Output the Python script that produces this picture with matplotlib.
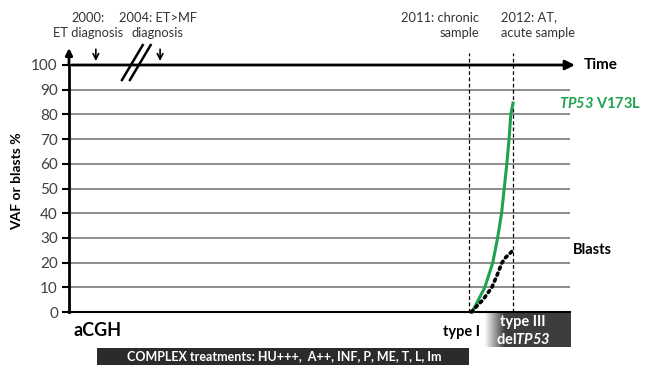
import numpy as np
import matplotlib
matplotlib.use("Agg")
import matplotlib.pyplot as plt
from matplotlib.patches import Rectangle

plt.rcParams['font.family'] = ['Lato', 'DejaVu Sans']
plt.rcParams['mathtext.fontset'] = 'custom'
plt.rcParams['mathtext.rm'] = 'Lato'
plt.rcParams['mathtext.bf'] = 'Lato:bold'
plt.rcParams['mathtext.it'] = 'Lato:italic'
plt.rcParams['mathtext.bfit'] = 'Lato:italic:bold'

# time axis: 0 = 2011 chronic sample, 1 = 2012 acute sample
# green curve: TP53 V173L VAF (%)
tp53_t = [0.07, 0.36, 0.54, 0.65, 0.74, 0.80, 0.86, 0.91, 0.95, 1.0]
tp53_vaf = [0, 10, 20, 30, 40, 50, 60, 70, 80, 84.6]
# dotted curve: blasts (%)
blasts_t = [0.05, 0.32, 0.52, 0.64, 0.75, 0.83, 1.0]
blasts_pct = [0, 5, 10, 15, 20, 22, 25]

yticks = list(range(0, 101, 10))
event_labels = ["2000:\nET diagnosis", "2004: ET>MF\ndiagnosis"]
event_pos = [-8.48, -7.02]
sample_labels = ["2011: chronic\nsample", "2012: AT,\nacute sample"]
sample_pos = [0.0, 1.0]
treatment_text = "COMPLEX treatments: HU+++,  A++, INF, P, ME, T, L, Im"

xmin, xmax = -9.09, 2.295
green = '#1fa24f'
txt_gray = '#333333'

fig = plt.figure(figsize=(6.5, 3.65), dpi=100)
ax = fig.add_axes([69 / 650, 53 / 365, 501 / 650, 247 / 365])
ax.set_xlim(xmin, xmax)
ax.set_ylim(0, 100)

# grid
ax.hlines(yticks[1:-1], xmin, xmax, color='#8c8c8c', lw=1.4, zorder=1)

# axes styling
for s in ['top', 'right']:
    ax.spines[s].set_visible(False)
ax.spines['left'].set_linewidth(2)
ax.spines['bottom'].set_linewidth(1.5)
ax.set_xticks([])
ax.set_yticks(yticks)
ax.tick_params(axis='y', direction='out', length=5, width=1.5,
               labelsize=11, labelcolor='#404040', pad=3)
ax.set_ylabel('VAF or blasts %', fontsize=10, fontweight='bold')
ax.yaxis.set_label_coords(-0.092, 0.53)

# y axis arrow
ax.annotate('', xy=(xmin, 108), xytext=(xmin, 99),
            arrowprops=dict(arrowstyle='-|>', color='black', lw=2, mutation_scale=10),
            annotation_clip=False)
# time arrow at 100
ax.annotate('', xy=(2.47, 100), xytext=(xmin, 100),
            arrowprops=dict(arrowstyle='-|>', color='black', lw=2, mutation_scale=14),
            annotation_clip=False)
ax.text(2.6, 100, 'Time', fontsize=11, fontweight='bold', va='center', ha='left')

# break marks on the time axis
for off in [0.0, 0.18]:
    ax.plot([-7.9 + off, -7.4 + off], [93.5, 108.5], color='black', lw=1.8,
            clip_on=False, solid_capstyle='butt')

# event arrows and labels
for label, pos, shift in zip(event_labels, event_pos, [-0.18, -0.05]):
    ax.annotate('', xy=(pos, 100.5), xytext=(pos, 107.5),
                arrowprops=dict(arrowstyle='->', color='black', lw=1.2, mutation_scale=10),
                annotation_clip=False)
    ax.text(pos + shift, 110.5, label, fontsize=9.3, color=txt_gray, ha='center',
            va='bottom', linespacing=1.35)

# sample time points
ax.vlines(sample_pos, 0, 105, color='black', lw=0.9, linestyles=(0, (3, 2)), clip_on=False)
ax.text(sample_pos[0] + 0.23, 110.5, sample_labels[0], fontsize=9.3, color=txt_gray,
        ha='right', va='bottom', linespacing=1.35, multialignment='right')
ax.text(sample_pos[1] - 0.27, 110.5, sample_labels[1], fontsize=9.3, color=txt_gray,
        ha='left', va='bottom', linespacing=1.35)

# curves
ax.plot(tp53_t, tp53_vaf, color=green, lw=2.2, zorder=3, clip_on=False)
ax.plot(blasts_t, blasts_pct, color='black', lw=2.6, ls=(0, (0.6, 1.2)),
        dash_capstyle='round', zorder=3, clip_on=False)
ax.text(2.04, tp53_vaf[-1], r'$\mathbfit{TP53}$ V173L', fontsize=10.5, fontweight='bold',
        color=green, va='center', ha='left')
ax.text(2.36, blasts_pct[-1], 'Blasts', fontsize=10.5, fontweight='bold',
        va='center', ha='left')

# bottom annotations
ax.text(xmin + 0.1, -7.5, 'aCGH', fontsize=13, fontweight='bold', va='center', ha='left')
ax.text(0.25, -8, 'type I', fontsize=10.5, fontweight='bold', va='center', ha='right')

# gradient box for type III delTP53
grad = np.clip((np.linspace(0.2, xmax, 200) - 0.35) / 0.45, 0, 1)
dark = np.array([0.24, 0.24, 0.24])
img = 1 - grad[None, :, None] * (1 - dark[None, None, :])
ax.imshow(img, extent=[0.2, xmax, -14, -0.2], aspect='auto', clip_on=False,
          interpolation='bilinear', zorder=2)
ax.text(1.23, -4, 'type III', fontsize=10.5, fontweight='bold', color='white',
        ha='center', va='center')
ax.text(1.23, -11.3, r'del$\mathbfit{TP53}$', fontsize=10.5, fontweight='bold',
        color='white', ha='center', va='center')
ax.set_xlim(xmin, xmax)
ax.set_ylim(0, 100)

# treatment bar
ax.add_patch(Rectangle((-8.45, -23), 8.45, 8.6, facecolor='#2b2b2b',
                       edgecolor='none', clip_on=False))
ax.text(-4.2, -18, treatment_text, fontsize=9, fontweight='bold', color='white',
        ha='center', va='center')

fig.savefig('out.png', dpi=100)
